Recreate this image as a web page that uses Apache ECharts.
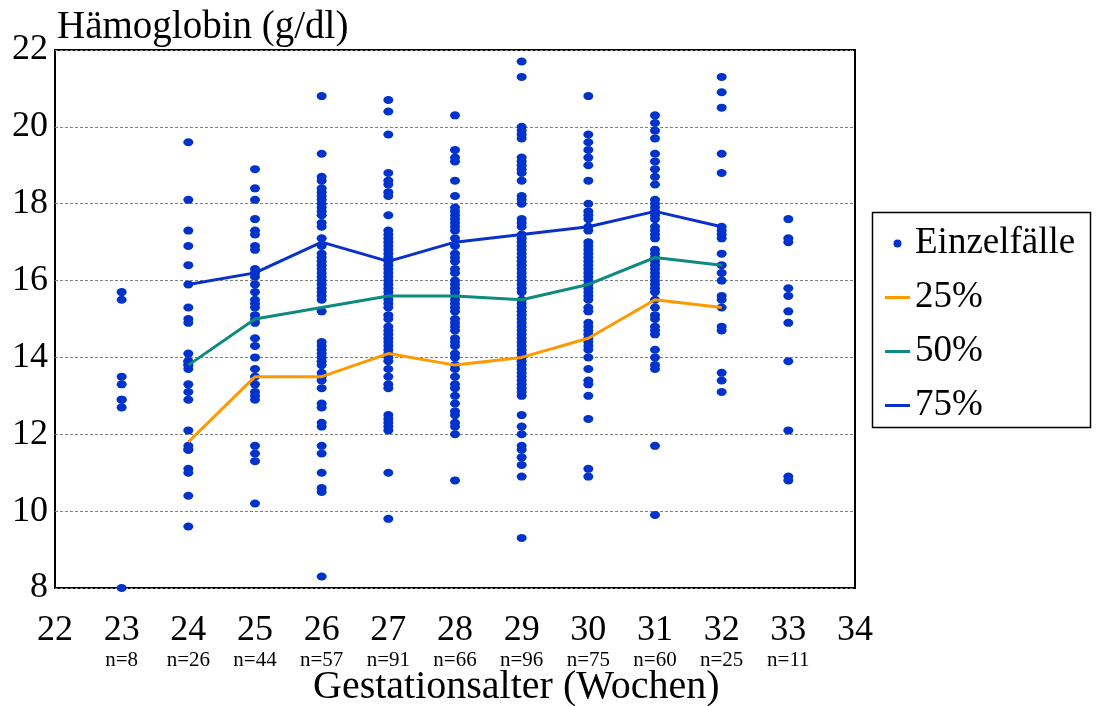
<!DOCTYPE html>
<html><head><meta charset="utf-8">
<script src="https://cdn.jsdelivr.net/npm/echarts@6/dist/echarts.min.js"></script>
<style>html,body{margin:0;padding:0;background:#fff}#c{width:1096px;height:706px}</style>
</head><body><div id="c"></div>
<script>
// Weeks and case counts
const weeks = [23, 24, 25, 26, 27, 28, 29, 30, 31, 32, 33];
const nLabels = ['n=8', 'n=26', 'n=44', 'n=57', 'n=91', 'n=66', 'n=96', 'n=75', 'n=60', 'n=25', 'n=11'];
const xTicks = [22, 23, 24, 25, 26, 27, 28, 29, 30, 31, 32, 33, 34];

// Individual cases (Hb g/dl) per week
const hb23 = [15.7, 15.5, 13.5, 13.3, 12.9, 12.9, 12.7, 8.0];
const hb24 = [19.6, 18.1, 17.3, 16.9, 16.4, 15.9, 15.3, 15.0, 14.9, 14.1, 13.9, 13.9, 13.8, 13.8, 13.7, 13.3, 13.1, 12.9, 12.1, 11.7, 11.6, 11.6, 11.1, 11.0, 10.4, 9.6];
const hb25 = [18.9, 18.4, 18.1, 17.6, 17.3, 17.2, 16.9, 16.8, 16.3, 16.2, 16.1, 15.9, 15.7, 15.5, 15.4, 15.3, 15.1, 15.0, 14.9, 14.5, 14.3, 14.0, 13.7, 13.5, 13.3, 13.1, 13.0, 12.9, 11.7, 11.5, 11.3, 10.2];
const hb26 = [20.8, 19.3, 18.7, 18.6, 18.4, 18.3, 18.2, 18.1, 18.0, 17.9, 17.8, 17.7, 17.5, 17.4, 17.1, 16.9, 16.7, 16.6, 16.5, 16.4, 16.3, 16.2, 16.1, 16.0, 15.9, 15.8, 15.7, 15.6, 15.5, 15.2, 14.4, 14.3, 14.2, 14.1, 14.0, 13.9, 13.8, 13.6, 13.5, 13.4, 13.2, 12.8, 12.7, 12.3, 12.2, 11.7, 11.5, 11.0, 10.6, 10.5, 8.3];
const hb27 = [20.7, 20.4, 19.8, 18.8, 18.6, 18.5, 18.3, 18.2, 17.7, 17.3, 17.2, 17.1, 17.0, 16.9, 16.8, 16.7, 16.6, 16.5, 16.4, 16.3, 16.2, 16.1, 16.0, 15.9, 15.8, 15.7, 15.6, 15.5, 15.4, 15.3, 15.1, 15.0, 14.8, 14.7, 14.6, 14.5, 14.4, 14.3, 14.2, 14.1, 14.0, 13.9, 13.7, 13.5, 13.3, 13.2, 12.5, 12.4, 12.3, 12.2, 12.1, 11.0, 9.8];
const hb28 = [20.3, 19.4, 19.2, 19.1, 18.6, 18.2, 17.9, 17.8, 17.7, 17.6, 17.5, 17.4, 17.3, 17.1, 16.9, 16.7, 16.6, 16.5, 16.3, 16.2, 16.0, 15.9, 15.8, 15.7, 15.6, 15.5, 15.4, 15.3, 15.2, 15.0, 14.9, 14.8, 14.7, 14.5, 14.4, 14.3, 14.1, 14.0, 13.8, 13.7, 13.5, 13.3, 13.2, 13.0, 12.8, 12.6, 12.5, 12.3, 12.2, 12.0, 10.8];
const hb29 = [21.7, 21.3, 20.0, 19.9, 19.8, 19.7, 19.2, 19.1, 19.0, 18.9, 18.8, 18.6, 18.2, 18.1, 18.0, 17.6, 17.5, 17.4, 17.2, 17.1, 17.0, 16.9, 16.8, 16.7, 16.6, 16.5, 16.4, 16.3, 16.2, 16.1, 16.0, 15.9, 15.8, 15.7, 15.5, 15.4, 15.3, 15.2, 15.1, 15.0, 14.9, 14.8, 14.7, 14.6, 14.5, 14.4, 14.3, 14.2, 14.1, 14.0, 13.9, 13.8, 13.7, 13.6, 13.5, 13.4, 13.3, 13.2, 13.1, 13.0, 12.5, 12.2, 12.0, 11.7, 11.6, 11.4, 11.2, 10.9, 9.3];
const hb30 = [20.8, 19.8, 19.6, 19.4, 19.2, 19.0, 18.6, 18.0, 17.8, 17.7, 17.6, 17.4, 17.3, 17.0, 16.9, 16.8, 16.7, 16.6, 16.5, 16.4, 16.3, 16.2, 16.1, 16.0, 15.9, 15.8, 15.7, 15.6, 15.5, 15.3, 15.2, 14.9, 14.8, 14.7, 14.6, 14.5, 14.4, 14.3, 14.2, 14.0, 13.7, 13.4, 13.3, 13.0, 12.4, 11.1, 10.9];
const hb31 = [20.3, 20.1, 19.9, 19.7, 19.3, 19.1, 18.9, 18.7, 18.5, 18.1, 18.0, 17.9, 17.8, 17.7, 17.6, 17.4, 17.3, 17.2, 17.1, 16.8, 16.7, 16.6, 16.5, 16.4, 16.3, 16.2, 16.1, 16.0, 15.9, 15.8, 15.7, 15.5, 15.3, 15.1, 15.0, 14.8, 14.7, 14.6, 14.2, 14.0, 13.8, 13.7, 11.7, 9.9];
const hb32 = [21.3, 20.9, 20.5, 19.3, 18.8, 17.4, 17.3, 17.2, 17.1, 16.7, 16.4, 16.2, 16.0, 15.6, 15.5, 15.3, 14.8, 14.7, 13.6, 13.4, 13.1];
const hb33 = [17.6, 17.1, 17.0, 15.8, 15.6, 15.2, 14.9, 13.9, 12.1, 10.9, 10.8];

// Percentiles (weeks 24..32)
const pWeeks = [24, 25, 26, 27, 28, 29, 30, 31, 32];
const p25 = [11.8, 13.5, 13.5, 14.1, 13.8, 14.0, 14.5, 15.5, 15.3];
const p50 = [13.8, 15.0, 15.3, 15.6, 15.6, 15.5, 15.9, 16.6, 16.4];
const p75 = [15.9, 16.2, 17.0, 16.5, 17.0, 17.2, 17.4, 17.8, 17.4];

const cases = [hb23, hb24, hb25, hb26, hb27, hb28, hb29, hb30, hb31, hb32, hb33];
const scatterData = [];
weeks.forEach((w, i) => cases[i].forEach(v => scatterData.push([w, v])));
const pair = arr => pWeeks.map((w, i) => [w, arr[i]]);

const serif = 'Liberation Serif';
const lineIcon = 'path://M0,0H25V3H0Z';
const chart = echarts.init(document.getElementById('c'), null, {renderer: 'canvas'});
chart.setOption({
  animation: false,
  backgroundColor: '#fff',
  grid: {left: 55, right: 241, top: 50, bottom: 118, show: true, borderColor: '#000', borderWidth: 2, backgroundColor: 'transparent'},
  xAxis: {
    type: 'value', min: 22, max: 34, interval: 1,
    axisLine: {show: false}, axisTick: {show: false}, splitLine: {show: false},
    axisLabel: {
      margin: 22, color: '#000', fontFamily: serif,
      formatter: v => {
        const i = weeks.indexOf(v);
        return i >= 0 ? '{a|' + v + '}\n{b|' + nLabels[i] + '}' : '{a|' + v + '}';
      },
      rich: {
        a: {fontFamily: serif, fontSize: 36, lineHeight: 42, color: '#000'},
        b: {fontFamily: serif, fontSize: 21, lineHeight: 16, color: '#000'}
      }
    }
  },
  yAxis: {
    type: 'value', min: 8, max: 22, interval: 2,
    axisLine: {show: false}, axisTick: {show: false},
    axisLabel: {margin: 7, color: '#000', fontFamily: serif, fontSize: 36},
    splitLine: {show: true, lineStyle: {color: '#808080', width: 1, type: [3, 2]}}
  },
  legend: {
    orient: 'vertical', left: 880, top: 220,
    itemWidth: 25, itemHeight: 8, itemGap: 17,
    textStyle: {fontFamily: serif, fontSize: 37, color: '#000'},
    data: [
      {name: 'Einzelfälle', icon: 'circle', itemStyle: {color: '#0033CC'}},
      {name: '25%', icon: lineIcon, itemStyle: {color: '#FF9900'}},
      {name: '50%', icon: lineIcon, itemStyle: {color: '#0E8A80'}},
      {name: '75%', icon: lineIcon, itemStyle: {color: '#0A30CC'}}
    ]
  },
  graphic: [
    {type: 'rect', left: 870, top: 210, shape: {width: 218, height: 215}, style: {fill: 'none', stroke: '#000', lineWidth: 1.5}, z: -1},
    {type: 'text', left: 57, top: 8, style: {text: 'Hämoglobin (g/dl)', font: '39px "Liberation Serif"', fill: '#000'}},
    {type: 'text', left: 313, top: 667, style: {text: 'Gestationsalter (Wochen)', font: '40px "Liberation Serif"', fill: '#000'}}
  ],
  series: [
    {name: 'Einzelfälle', type: 'scatter', data: scatterData, symbol: 'circle', symbolSize: [10, 8],
     itemStyle: {color: '#0033CC', opacity: 1}, z: 2},
    {name: '25%', type: 'line', data: pair(p25), showSymbol: false, symbol: 'none',
     lineStyle: {color: '#FF9900', width: 3}, itemStyle: {color: '#FF9900'}, z: 3},
    {name: '50%', type: 'line', data: pair(p50), showSymbol: false, symbol: 'none',
     lineStyle: {color: '#0E8A80', width: 3}, itemStyle: {color: '#0E8A80'}, z: 3},
    {name: '75%', type: 'line', data: pair(p75), showSymbol: false, symbol: 'none',
     lineStyle: {color: '#0A30CC', width: 3}, itemStyle: {color: '#0A30CC'}, z: 3}
  ]
});
</script></body></html>
